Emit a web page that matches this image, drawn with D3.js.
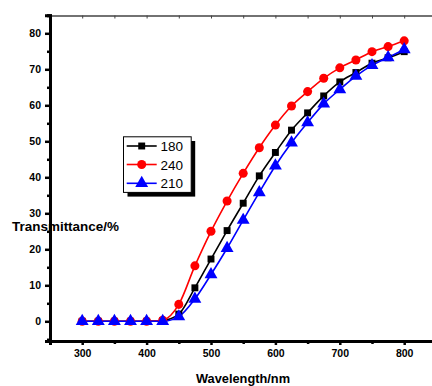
<!DOCTYPE html>
<html><head><meta charset="utf-8">
<script src="https://cdn.jsdelivr.net/npm/d3@7"></script>
<style>html,body{margin:0;padding:0;background:#fff;overflow:hidden}</style>
</head><body>
<svg id="c" width="432" height="386"></svg>
<script>
const wavelengths = [300,325,350,375,400,425,450,475,500,525,550,575,600,625,650,675,700,725,750,775,800];
const s180 = [0,0,0,0,0,0.2,2.0,9.3,17.3,25.2,32.8,40.4,46.9,53.1,57.9,62.6,66.5,69.1,71.7,73.2,74.9];
const s240 = [0,0,0,0,0,0.3,4.7,15.4,25.0,33.4,41.1,48.2,54.5,59.8,63.8,67.5,70.4,72.6,74.9,76.3,77.9];
const s210 = [0,0,0,0,0,0,1.3,6.2,13.0,20.3,28.1,35.8,43.2,49.6,55.2,60.4,64.4,68.1,71.1,73.3,75.5];
const seriesNames = ["180","240","210"];
const xTicks = [300,400,500,600,700,800];
const yTicks = [0,10,20,30,40,50,60,70,80];

(function(){
const svg = d3.select("#c");
const x = d3.scaleLinear().domain([250,850]).range([50,436.4]);
const y = d3.scaleLinear().domain([-5.5,85]).range([341.1,15.3]);
const font = "Arial, 'Liberation Sans', sans-serif";

// top axis
const tAx = svg.append("g").attr("transform","translate(0,15.5)")
  .call(d3.axisTop(x).tickValues(d3.range(250,851,50)).tickSize(-3).tickFormat(""));
tAx.select(".domain").attr("stroke","#444").attr("stroke-width",1.3);
tAx.selectAll(".tick line").attr("stroke","#444").attr("stroke-width",1);

// bottom axis
const bx = svg.append("g").attr("transform","translate(0,341)");
bx.call(d3.axisBottom(x).tickValues(d3.range(250,851,50).filter(v=>!xTicks.includes(v))).tickSize(3).tickFormat(""));
bx.append("g").call(d3.axisBottom(x).tickValues(xTicks).tickSize(4).tickPadding(5));
bx.selectAll(".domain").attr("stroke","#000").attr("stroke-width",3);
bx.selectAll(".tick line").attr("stroke","#000").attr("stroke-width",2.5);
bx.selectAll(".tick text").attr("font-family",font).attr("font-weight","bold").attr("font-size",10.5).attr("fill","#000");

// left axis
const ly = svg.append("g").attr("transform","translate(50,0)");
ly.call(d3.axisLeft(y).tickValues(d3.range(-5,86,10)).tickSize(3).tickFormat(""));
ly.append("g").call(d3.axisLeft(y).tickValues(yTicks).tickSize(5).tickPadding(4));
ly.selectAll(".domain").attr("stroke","#000").attr("stroke-width",3);
ly.selectAll(".tick line").attr("stroke","#000").attr("stroke-width",2.5);
ly.selectAll(".tick text").attr("font-family",font).attr("font-weight","bold").attr("font-size",10.5).attr("fill","#000");

// series
const colors = ["#000000","#ff0000","#0000ff"];
const shapes = [d3.symbolSquare, d3.symbolCircle, d3.symbolTriangle];
const sizes = [48, 64, 72];
const data = [s180, s240, s210];
const line = d3.line().x((d,i)=>x(wavelengths[i])).y(d=>y(d)).curve(d3.curveMonotoneX);
data.forEach((s,k)=>{
  svg.append("path").attr("d",line(s)).attr("fill","none").attr("stroke",colors[k]).attr("stroke-width",1.6);
});
data.forEach((s,k)=>{
  svg.append("g").selectAll("path").data(s).join("path")
    .attr("transform",(d,i)=>`translate(${x(wavelengths[i])},${y(d)})`)
    .attr("d",d3.symbol(shapes[k],sizes[k])).attr("fill",colors[k]);
});

// axis titles
svg.append("text").attr("x",12).attr("y",230.5).text("Transmittance/%")
  .attr("font-family",font).attr("font-weight","bold").attr("font-size",13.5)
  .attr("textLength",107).attr("lengthAdjust","spacingAndGlyphs");
svg.append("text").attr("x",196).attr("y",382.5).text("Wavelength/nm")
  .attr("font-family",font).attr("font-weight","bold").attr("font-size",13.5)
  .attr("textLength",94).attr("lengthAdjust","spacingAndGlyphs");

// legend
const lg = svg.append("g");
lg.append("rect").attr("x",127.5).attr("y",141).attr("width",67.7).attr("height",55.6).attr("fill","#000");
lg.append("rect").attr("x",123.5).attr("y",136.8).attr("width",67.7).attr("height",55.6).attr("fill","#fff").attr("stroke","#000").attr("stroke-width",1);
const rowsY = [146,164.5,183.3];
seriesNames.forEach((n,k)=>{
  lg.append("line").attr("x1",126.7).attr("x2",156.7).attr("y1",rowsY[k]).attr("y2",rowsY[k]).attr("stroke",colors[k]).attr("stroke-width",1.6);
  lg.append("path").attr("transform",`translate(141.7,${rowsY[k]})`).attr("d",d3.symbol(shapes[k],sizes[k])).attr("fill",colors[k]);
  lg.append("text").attr("x",160.5).attr("y",rowsY[k]+5).text(n)
    .attr("font-family",font).attr("font-size",13.5).attr("fill","#000");
});
})();
</script>
</body></html>
